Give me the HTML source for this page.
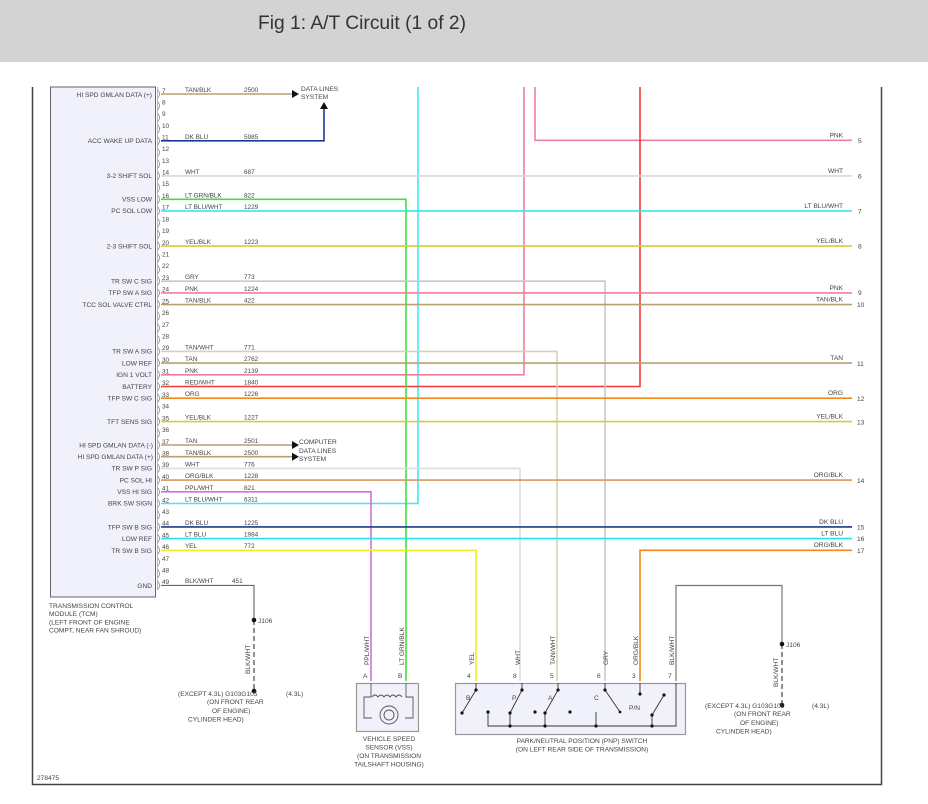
<!DOCTYPE html>
<html><head><meta charset="utf-8"><style>
html,body{margin:0;padding:0;background:#fff;}
svg{display:block;}
text{font-family:"Liberation Sans",Arial,sans-serif;}
.l{font-size:6.6px;fill:#444;text-anchor:end;}
.p{font-size:6.4px;fill:#444;}
.w{font-size:6.4px;fill:#444;}
.r{font-size:6.6px;fill:#444;text-anchor:end;}
.n{font-size:6.6px;fill:#444;}
.c{font-size:6.6px;fill:#444;text-anchor:middle;}
</style></head><body>
<svg width="928" height="804" viewBox="0 0 928 804" xmlns="http://www.w3.org/2000/svg">
<rect x="0" y="0" width="928" height="62" fill="#d3d3d3"/>
<text x="258" y="29" textLength="208" lengthAdjust="spacingAndGlyphs" style="font-size:19px;fill:#333">Fig 1: A/T Circuit (1 of 2)</text>
<path d="M32.5 87 V784.5 H881.5 V87" fill="none" stroke="#444" stroke-width="1.5"/>
<rect x="50.5" y="87" width="105" height="510" fill="#f0f1fb" stroke="#666" stroke-width="1"/>
<line x1="157.5" y1="87" x2="157.5" y2="590" stroke="#bbb" stroke-width="1"/>
<g fill="none" stroke="#666" stroke-width="0.6">
<path d="M158 90 q3 4 0 8 M158 101.7 q3 4 0 8 M158 113.4 q3 4 0 8 M158 125.1 q3 4 0 8 M158 136.8 q3 4 0 8 M158 148.5 q3 4 0 8 M158 160.2 q3 4 0 8 M158 171.9 q3 4 0 8 M158 183.6 q3 4 0 8 M158 195.3 q3 4 0 8 M158 207 q3 4 0 8 M158 218.7 q3 4 0 8 M158 230.4 q3 4 0 8 M158 242.1 q3 4 0 8 M158 253.8 q3 4 0 8 M158 265.5 q3 4 0 8 M158 277.2 q3 4 0 8 M158 288.9 q3 4 0 8 M158 300.6 q3 4 0 8 M158 312.3 q3 4 0 8 M158 324 q3 4 0 8 M158 335.7 q3 4 0 8 M158 347.4 q3 4 0 8 M158 359.1 q3 4 0 8 M158 370.8 q3 4 0 8 M158 382.5 q3 4 0 8 M158 394.2 q3 4 0 8 M158 405.9 q3 4 0 8 M158 417.6 q3 4 0 8 M158 429.3 q3 4 0 8 M158 441 q3 4 0 8 M158 452.7 q3 4 0 8 M158 464.4 q3 4 0 8 M158 476.1 q3 4 0 8 M158 487.8 q3 4 0 8 M158 499.5 q3 4 0 8 M158 511.2 q3 4 0 8 M158 522.9 q3 4 0 8 M158 534.6 q3 4 0 8 M158 546.3 q3 4 0 8 M158 558 q3 4 0 8 M158 569.7 q3 4 0 8 M158 581.4 q3 4 0 8"/>
</g>
<g fill="none" stroke-width="1.6">
<path d="M418 87 V503.5 H161" stroke="#40e8f0"/>
<path d="M524 87 V374.8 H161" stroke="#f07f9a"/>
<path d="M535 87 V140.3 H852" stroke="#f07f9a"/>
<path d="M640 87 V386.5 H161" stroke="#f03a3a"/>
<path d="M161 94 H292" stroke="#b8a070"/>
<path d="M161 140.8 H324 V108" stroke="#1a3a9a"/>
<path d="M161 199.3 H406 V681" stroke="#44dd44"/>
<path d="M161 281.2 H605 V681" stroke="#c8c8c8"/>
<path d="M161 351.4 H557 V681" stroke="#d8d0b8"/>
<path d="M161 468.4 H520 V681" stroke="#dcdcdc"/>
<path d="M161 491.8 H371 V681" stroke="#d070e0"/>
<path d="M161 550.3 H476 V681" stroke="#f0f020"/>
<path d="M852 550.3 H640 V681" stroke="#f28a1a"/>
<path d="M676 681 V585.5 H782 V644" stroke="#777" stroke-width="1.2"/>
<path d="M161 445 H292 M161 456.7 H292" stroke="#b8a070"/>
<path d="M161 175.9 H852" stroke="#d8d8d8"/>
<path d="M161 211 H852" stroke="#22e5ee"/>
<path d="M161 246.1 H852" stroke="#d4cc3c"/>
<path d="M161 292.9 H852" stroke="#f07f9a"/>
<path d="M161 304.6 H852" stroke="#b8a070"/>
<path d="M161 363.1 H852" stroke="#b8a070"/>
<path d="M161 398.2 H852" stroke="#f28a1a"/>
<path d="M161 421.6 H852" stroke="#d4cc3c"/>
<path d="M161 480.1 H852" stroke="#d89860"/>
<path d="M161 526.9 H852" stroke="#1a3a8a"/>
<path d="M161 538.6 H852" stroke="#22e5ee"/>
<path d="M161 585.4 H254 V620" stroke="#555" stroke-width="1"/>
<path d="M254 620 V692" stroke="#555" stroke-width="1.3" stroke-dasharray="5,3"/>
<path d="M782 644 V706" stroke="#555" stroke-width="1.3" stroke-dasharray="5,3"/>
</g>
<g fill="#111">
<path d="M292 90 L299 94 L292 98Z"/>
<path d="M292 441 L299 445 L292 449Z"/>
<path d="M292 452.7 L299 456.7 L292 460.7Z"/>
<path d="M320 109 L324 102 L328 109Z"/>
<circle cx="254" cy="620" r="2.3"/><circle cx="254" cy="691" r="2.3"/>
<circle cx="782" cy="644" r="2.3"/><circle cx="782" cy="705" r="2.3"/>
</g>
<text x="301" y="91" class="n">DATA LINES</text><text x="301" y="99" class="n">SYSTEM</text>
<text x="299" y="444" class="n">COMPUTER</text><text x="299" y="453" class="n">DATA LINES</text><text x="299" y="461" class="n">SYSTEM</text>
<g class="l">
<text x="152" y="97">HI SPD GMLAN DATA (+)</text>
<text x="152" y="143">ACC WAKE UP DATA</text>
<text x="152" y="178">3-2 SHIFT SOL</text>
<text x="152" y="201.5">VSS LOW</text>
<text x="152" y="213">PC SOL LOW</text>
<text x="152" y="248.5">2-3 SHIFT SOL</text>
<text x="152" y="283.5">TR SW C SIG</text>
<text x="152" y="295">TFP SW A SIG</text>
<text x="152" y="307">TCC SOL VALVE CTRL</text>
<text x="152" y="353.5">TR SW A SIG</text>
<text x="152" y="365.5">LOW REF</text>
<text x="152" y="377">IGN 1 VOLT</text>
<text x="152" y="389">BATTERY</text>
<text x="152" y="400.5">TFP SW C SIG</text>
<text x="152" y="424">TFT SENS SIG</text>
<text x="153" y="447.5">HI SPD GMLAN DATA (-)</text>
<text x="153" y="459">HI SPD GMLAN DATA (+)</text>
<text x="152" y="470.5">TR SW P SIG</text>
<text x="152" y="482.5">PC SOL HI</text>
<text x="152" y="494">VSS HI SIG</text>
<text x="152" y="505.5">BRK SW SIGN</text>
<text x="152" y="529.5">TFP SW B SIG</text>
<text x="152" y="541">LOW REF</text>
<text x="152" y="553">TR SW B SIG</text>
<text x="152" y="588">GND</text>
</g>
<g class="p">
<text x="162" y="93">7</text><text x="162" y="104.5">8</text><text x="162" y="116">9</text><text x="162" y="128">10</text><text x="162" y="139.5">11</text><text x="162" y="151">12</text><text x="162" y="163">13</text><text x="162" y="174.5">14</text><text x="162" y="186">15</text><text x="162" y="198">16</text><text x="162" y="209.5">17</text><text x="162" y="221.5">18</text><text x="162" y="233">19</text><text x="162" y="245">20</text><text x="162" y="256.5">21</text><text x="162" y="268">22</text><text x="162" y="280">23</text><text x="162" y="291.5">24</text><text x="162" y="303.5">25</text><text x="162" y="315">26</text><text x="162" y="327">27</text><text x="162" y="338.5">28</text><text x="162" y="350">29</text><text x="162" y="362">30</text><text x="162" y="373.5">31</text><text x="162" y="385">32</text><text x="162" y="397">33</text><text x="162" y="408.5">34</text><text x="162" y="420.5">35</text><text x="162" y="432">36</text><text x="162" y="444">37</text><text x="162" y="455.5">38</text><text x="162" y="467">39</text><text x="162" y="479">40</text><text x="162" y="490.5">41</text><text x="162" y="502.5">42</text><text x="162" y="514">43</text><text x="162" y="525.5">44</text><text x="162" y="537.5">45</text><text x="162" y="549">46</text><text x="162" y="561">47</text><text x="162" y="572.5">48</text><text x="162" y="584">49</text>
</g>
<g class="w">
<text x="185" y="92">TAN/BLK</text><text x="244" y="92">2500</text>
<text x="185" y="139">DK BLU</text><text x="244" y="139">5985</text>
<text x="185" y="174">WHT</text><text x="244" y="174">687</text>
<text x="185" y="197.5">LT GRN/BLK</text><text x="244" y="197.5">822</text>
<text x="185" y="209">LT BLU/WHT</text><text x="244" y="209">1229</text>
<text x="185" y="244">YEL/BLK</text><text x="244" y="244">1223</text>
<text x="185" y="279">GRY</text><text x="244" y="279">773</text>
<text x="185" y="291">PNK</text><text x="244" y="291">1224</text>
<text x="185" y="302.5">TAN/BLK</text><text x="244" y="302.5">422</text>
<text x="185" y="349.5">TAN/WHT</text><text x="244" y="349.5">771</text>
<text x="185" y="361">TAN</text><text x="244" y="361">2762</text>
<text x="185" y="373">PNK</text><text x="244" y="373">2139</text>
<text x="185" y="384.5">RED/WHT</text><text x="244" y="384.5">1840</text>
<text x="185" y="396">ORG</text><text x="244" y="396">1226</text>
<text x="185" y="419.5">YEL/BLK</text><text x="244" y="419.5">1227</text>
<text x="185" y="443">TAN</text><text x="244" y="443">2501</text>
<text x="185" y="455">TAN/BLK</text><text x="244" y="455">2500</text>
<text x="185" y="466.5">WHT</text><text x="244" y="466.5">776</text>
<text x="185" y="478">ORG/BLK</text><text x="244" y="478">1228</text>
<text x="185" y="490">PPL/WHT</text><text x="244" y="490">821</text>
<text x="185" y="501.5">LT BLU/WHT</text><text x="244" y="501.5">6311</text>
<text x="185" y="525">DK BLU</text><text x="244" y="525">1225</text>
<text x="185" y="536.5">LT BLU</text><text x="244" y="536.5">1984</text>
<text x="185" y="548">YEL</text><text x="244" y="548">772</text>
<text x="185" y="583">BLK/WHT</text><text x="232" y="583">451</text>
</g>
<g class="r">
<text x="843" y="137.5">PNK</text><text x="843" y="173">WHT</text><text x="843" y="208">LT BLU/WHT</text><text x="843" y="243">YEL/BLK</text>
<text x="843" y="290">PNK</text><text x="843" y="301.5">TAN/BLK</text><text x="843" y="360">TAN</text><text x="843" y="395">ORG</text>
<text x="843" y="418.5">YEL/BLK</text><text x="843" y="477">ORG/BLK</text><text x="843" y="524">DK BLU</text><text x="843" y="535.5">LT BLU</text><text x="843" y="547">ORG/BLK</text>
</g>
<g class="n">
<text x="858" y="143">5</text><text x="858" y="178.5">6</text><text x="858" y="213.5">7</text><text x="858" y="248.5">8</text><text x="858" y="295">9</text><text x="857" y="307">10</text><text x="857" y="366">11</text><text x="857" y="401">12</text><text x="857" y="424.5">13</text><text x="857" y="483">14</text><text x="857" y="529.5">15</text><text x="857" y="541">16</text><text x="857" y="553">17</text>
</g>
<rect x="356.5" y="683.5" width="62" height="48" fill="#f0f1fb" stroke="#999" stroke-width="1.2"/>
<path d="M371 683 V697 H364 V718 H372 M406 683 V697 H413 V718 H405" fill="none" stroke="#555" stroke-width="0.9"/>
<path d="M372 697 q3 -4 6 0 q3 -4 6 0 q3 -4 6 0 q3 -4 6 0 q3 -4 6 0" fill="none" stroke="#555" stroke-width="0.9"/>
<circle cx="389" cy="715" r="9" fill="none" stroke="#555" stroke-width="0.9"/>
<circle cx="389" cy="715" r="5" fill="none" stroke="#555" stroke-width="0.9"/>
<g class="n" transform="rotate(-90)">
<text x="-665" y="369">PPL/WHT</text><text x="-665" y="404">LT GRN/BLK</text>
<text x="-665" y="474">YEL</text><text x="-665" y="520">WHT</text><text x="-665" y="555">TAN/WHT</text><text x="-665" y="608">GRY</text><text x="-665" y="638">ORG/BLK</text><text x="-665" y="674">BLK/WHT</text>
<text x="-674" y="250">BLK/WHT</text><text x="-687" y="778">BLK/WHT</text>
</g>
<g class="n"><text x="363" y="678">A</text><text x="398" y="678">B</text>
<text x="467" y="678">4</text><text x="513" y="678">8</text><text x="550" y="678">5</text><text x="597" y="678">6</text><text x="632" y="678">3</text><text x="668" y="678">7</text></g>
<rect x="455.5" y="683.5" width="230" height="51" fill="#f0f1fb" stroke="#999" stroke-width="1.2"/>
<g stroke="#333" stroke-width="0.9" fill="none">
<path d="M476 683 V690 L462 713 M522 683 V690 L510 713 V726 M558 683 V690 L545 713 V726 M605 683 V690 L620 712 M640 683 V693 M664 695 L652 715 V726 M676 683 V726 H488 V712 M596 712 V726"/>
</g>
<g fill="#111">
<circle cx="476" cy="690" r="1.6"/><circle cx="462" cy="713" r="1.6"/><circle cx="522" cy="690" r="1.6"/><circle cx="510" cy="713" r="1.6"/><circle cx="558" cy="690" r="1.6"/><circle cx="545" cy="713" r="1.6"/><circle cx="605" cy="690" r="1.6"/><circle cx="620" cy="712" r="1.4"/><circle cx="640" cy="694" r="1.6"/><circle cx="664" cy="695" r="1.6"/><circle cx="652" cy="715" r="1.6"/><circle cx="488" cy="712" r="1.6"/><circle cx="535" cy="712" r="1.6"/><circle cx="570" cy="712" r="1.6"/><circle cx="510" cy="726" r="1.6"/><circle cx="545" cy="726" r="1.6"/><circle cx="596" cy="726" r="1.6"/><circle cx="652" cy="726" r="1.6"/>
</g>
<g class="n"><text x="466" y="700">B</text><text x="512" y="700">P</text><text x="548" y="700">A</text><text x="594" y="700">C</text><text x="629" y="710">P/N</text></g>
<g class="c">
<text x="389" y="741">VEHICLE SPEED</text><text x="389" y="749.5">SENSOR (VSS)</text><text x="389" y="758">(ON TRANSMISSION</text><text x="389" y="766.5">TAILSHAFT HOUSING)</text>
<text x="582" y="743">PARK/NEUTRAL POSITION (PNP) SWITCH</text><text x="582" y="751.5">(ON LEFT REAR SIDE OF TRANSMISSION)</text>
</g>
<g class="n">
<text x="49" y="608">TRANSMISSION CONTROL</text><text x="49" y="616">MODULE (TCM)</text><text x="49" y="624.5">(LEFT FRONT OF ENGINE</text><text x="49" y="632.5">COMPT, NEAR FAN SHROUD)</text>
<text x="258" y="623">J106</text><text x="786" y="647">J106</text>
<text x="178" y="696">(EXCEPT 4.3L) G103G105</text><text x="286" y="696">(4.3L)</text>
<text x="207" y="704">(ON FRONT REAR</text><text x="212" y="713">OF ENGINE)</text><text x="188" y="721.5">CYLINDER HEAD)</text>
<text x="705" y="708">(EXCEPT 4.3L) G103G105</text><text x="812" y="708">(4.3L)</text>
<text x="734" y="716">(ON FRONT REAR</text><text x="740" y="725">OF ENGINE)</text><text x="716" y="733.5">CYLINDER HEAD)</text>
<text x="37" y="780">278475</text>
</g>
</svg>
</body></html>
